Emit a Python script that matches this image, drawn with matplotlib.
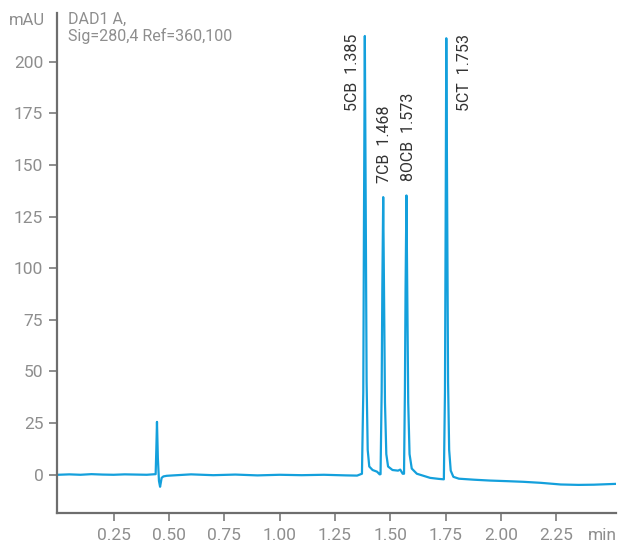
import numpy as np
import matplotlib
matplotlib.use("Agg")
import matplotlib.pyplot as plt

# chromatogram trace (time in min, signal in mAU)
time_min = [
    0.00, 0.05, 0.10, 0.15, 0.20, 0.25, 0.30, 0.35, 0.40, 0.440,
    0.443, 0.446, 0.450, 0.455, 0.460, 0.463, 0.467, 0.475, 0.49, 0.52,
    0.60, 0.70, 0.80, 0.90, 1.00, 1.10, 1.20, 1.30, 1.35, 1.372,
    1.378, 1.381, 1.385, 1.389, 1.393, 1.398, 1.405, 1.42, 1.44, 1.452,
    1.456, 1.461, 1.464, 1.468, 1.472, 1.476, 1.482, 1.49, 1.51, 1.535,
    1.545, 1.556, 1.562, 1.566, 1.569, 1.573, 1.577, 1.581, 1.587, 1.597,
    1.62, 1.65, 1.68, 1.72, 1.742, 1.747, 1.750, 1.753, 1.757, 1.761,
    1.766, 1.773, 1.785, 1.81, 1.88, 1.95, 2.03, 2.10, 2.18, 2.27,
    2.35, 2.42, 2.52,
]
signal_mau = [
    0.0, 0.2, 0.0, 0.3, 0.1, 0.0, 0.2, 0.1, 0.0, 0.3,
    12.0, 25.6, 8.0, -3.0, -5.8, -4.0, -1.5, -0.8, -0.5, -0.3,
    0.2, -0.2, 0.1, -0.3, 0.0, -0.2, 0.0, -0.3, -0.4, 0.5,
    40.0, 120.0, 212.4, 130.0, 45.0, 12.0, 4.0, 2.3, 1.5, 0.2,
    0.3, 40.0, 90.0, 134.4, 85.0, 35.0, 10.0, 4.0, 2.3, 2.0,
    2.5, 0.5, 0.5, 40.0, 90.0, 135.2, 85.0, 35.0, 10.0, 3.0,
    0.5, -0.5, -1.5, -2.0, -2.2, 40.0, 120.0, 211.3, 130.0, 45.0,
    12.0, 2.0, -1.0, -1.9, -2.4, -2.8, -3.1, -3.4, -3.9, -4.7,
    -4.9, -4.8, -4.4,
]

peak_names = ["5CB", "7CB", "8OCB", "5CT"]
peak_times = [1.385, 1.468, 1.573, 1.753]
label_x = [1.330, 1.476, 1.581, 1.835]
label_y = [176, 141, 142, 176]

x_ticks = [0.25, 0.50, 0.75, 1.00, 1.25, 1.50, 1.75, 2.00, 2.25]
y_ticks = [0, 25, 50, 75, 100, 125, 150, 175, 200]

plt.rcParams['font.family'] = ['Roboto', 'DejaVu Sans']

fig = plt.figure(figsize=(6.28, 5.44), dpi=100)
ax = fig.add_axes([0.091, 0.057, 0.890, 0.919])

ax.plot(time_min, signal_mau, color='#14a0dc', lw=1.6, solid_joinstyle='round')

for name, t, lx, ly in zip(peak_names, peak_times, label_x, label_y):
    ax.text(lx, ly, f"{name}  {t:.3f}", rotation=90, ha='center', va='bottom',
            fontsize=11.5, color='#333333')

ax.set_xlim(-0.005, 2.52)
ax.set_ylim(-18.5, 223.5)
ax.set_xticks(x_ticks)
ax.set_xticklabels([f"{v:.2f}" for v in x_ticks])
ax.set_yticks(y_ticks)

for s in ['top', 'right']:
    ax.spines[s].set_visible(False)
for s in ['left', 'bottom']:
    ax.spines[s].set_color('#6e6e6e')
    ax.spines[s].set_linewidth(1.6)

grey = '#8e8e8e'
ax.tick_params(axis='both', direction='out', length=6, width=1.2,
               colors='#7a7a7a', labelcolor=grey, labelsize=12.5)
ax.tick_params(axis='x', pad=5)
ax.tick_params(axis='y', pad=4)

fig.text(0.072, 0.962, "mAU", ha='right', va='center', fontsize=12, color=grey)
fig.text(0.983, 0.016, "min", ha='right', va='center', fontsize=12.5, color=grey)
fig.text(0.108, 0.979, "DAD1 A,\nSig=280,4 Ref=360,100", ha='left', va='top',
         fontsize=11.5, color=grey, linespacing=1.1)

fig.savefig("out.png", dpi=100)
